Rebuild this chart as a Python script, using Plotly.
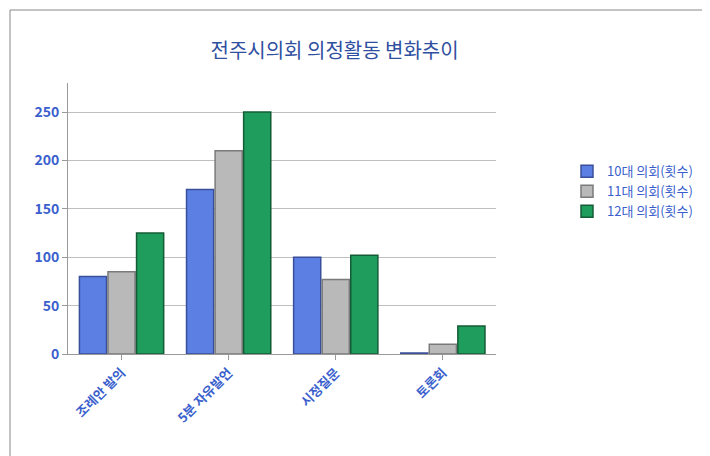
import plotly.graph_objects as go

categories = ["조례안 발의", "5분 자유발언", "시정질문", "토론회"]
series_names = ["10대 의회(횟수)", "11대 의회(횟수)", "12대 의회(횟수)"]
v10 = [80, 170, 100, 1]
v11 = [85, 210, 77, 10]
v12 = [125, 250, 102, 29]
colors = ["#5b7fe3", "#b9b9b9", "#1f9d5c"]
lines = ["#3a4f9a", "#7a7a7a", "#145c36"]

fig = go.Figure()
for name, vals, c, lc in zip(series_names, [v10, v11, v12], colors, lines):
    fig.add_trace(go.Bar(x=categories, y=vals, name=name, marker=dict(color=c, line=dict(color=lc, width=1.5))))

L, R, T, B = 60, 20, 75, 110
W, H = 710, 456
pw, ph = W - L - R, H - T - B
fig.update_layout(
    width=W, height=H,
    paper_bgcolor="white", plot_bgcolor="white",
    font=dict(family="Noto Sans CJK KR", color="#3a5fcd"),
    title=dict(text="전주시의회 의정활동 변화추이", x=0.46, y=0.92, font=dict(size=20, color="#2f4f9f")),
    barmode="group", bargap=0.2, bargroupgap=0.05,
    margin=dict(l=L, r=R, t=T, b=B),
    legend=dict(x=1.0, y=0.6, xanchor="right", font=dict(size=13, color="#3a5fcd")),
    xaxis=dict(tickangle=-45, tickfont=dict(size=13, color="#3a5fcd", weight="bold"), showline=True, linecolor="#999", ticks="outside", tickcolor="#999", domain=[0, 0.68]),
    yaxis=dict(range=[0, 280], dtick=50, gridcolor="#bfbfbf", tickfont=dict(size=14, color="#3a5fcd", weight="bold"), showline=True, linecolor="#999", ticks="outside", tickcolor="#999"),
    shapes=[dict(type="rect", xref="paper", yref="paper",
                 x0=(2 - L) / pw, x1=(W - 2 - L) / pw,
                 y0=(ph - (H - 2 - T)) / ph, y1=(ph + T - 2) / ph,
                 line=dict(color="#888", width=1))],
)
fig.write_html("out.html")
